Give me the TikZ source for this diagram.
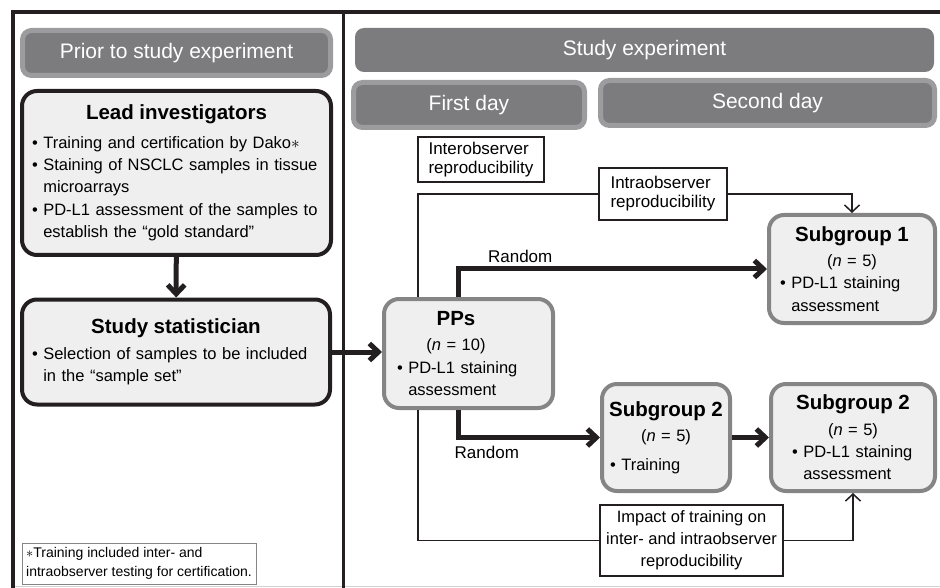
\documentclass[tikz,border=0pt]{standalone}
\usepackage{fontspec}
\setmainfont{Liberation Sans}
\usetikzlibrary{arrows.meta}
\definecolor{ink}{HTML}{231F20}
\definecolor{boxfill}{HTML}{EFEFEF}
\definecolor{boxedge}{HTML}{858585}
\definecolor{hdfill}{HTML}{7C7C7E}
\definecolor{hdring}{HTML}{9C9C9E}
\hyphenpenalty=10000
\newlength{\itmw}
\newcommand{\itm}[1]{\par\settowidth{\itmw}{\textbullet\ }\hangindent=\itmw\hangafter=1\noindent\textbullet\ #1\par}
\newcommand{\ttl}[2][\hsize]{\noindent\makebox[#1]{\bfseries\fontsize{20.5}{24}\selectfont #2}\par\vspace{3pt}}
\newcommand{\cnt}[2][\hsize]{\noindent\makebox[#1]{(\textit{n} = #2)}\par}
\begin{document}
\begin{tikzpicture}
[x=1pt, y=-1pt, line join=miter, >={Straight Barb[length=9pt,width=17pt]},
 hdr/.style={rounded corners=9pt, fill=hdfill, draw=hdring, line width=5pt, text=white,
   font=\fontsize{21}{24}\selectfont, minimum height=45pt, inner sep=0pt},
 grp/.style={rounded corners=15pt, fill=boxfill, line width=4pt, inner xsep=10pt, inner ysep=0pt,
   align=left, font=\fontsize{16.5}{22.3}\selectfont},
 lbl/.style={draw=ink, fill=white, line width=1.6pt, inner xsep=5pt, inner ysep=2pt,
   font=\fontsize{17}{19}\selectfont},
 thk/.style={draw=ink, line width=5pt},
 thn/.style={draw=ink, line width=1.5pt},
 rnd/.style={font=\fontsize{17}{19}\selectfont}]
\useasboundingbox (0,0) rectangle (940,588);
% frame
\draw[gray!35, line width=1pt] (13,586) -- (940,586);
\draw[ink, line width=4pt] (13,588) -- (13,12) -- (940,12);
\draw[ink, line width=3pt] (343,12) -- (343,588);
% headers
\foreach \nm/\x/\y/\w/\t in {prior/176.5/53/308/Prior to study experiment,
  first/469/105/231/First day, second/767.5/103/334/Second day}
  \node[hdr, minimum width=\w] (\nm) at (\x,\y) {\t};
\node[hdr, draw=none, minimum width=579pt, minimum height=44pt] (study) at (644.5,50) {Study experiment};
% left column
\node[grp, draw=ink, text width=289pt, minimum height=164pt] (lead) at (176.5,173)
  {\ttl{Lead investigators}\vspace{3pt}
   \itm{Training and certification by Dako$\ast$}
   \itm{Staining of NSCLC samples in tissue\newline microarrays}
   \itm{PD-L1 assessment of the samples to\newline establish the “gold standard”}};
\node[grp, draw=ink, text width=288pt, minimum height=105pt] (stat) at (176,352)
  {\ttl{Study statistician}
   \itm{Selection of samples to be included\newline in the “sample set”}};
\node[draw=boxedge, line width=1pt, align=left, minimum width=234pt, minimum height=41pt,
  inner xsep=4pt, font=\fontsize{14}{19}\selectfont] (note) at (139,563.5)
  {$\ast$Training included inter- and\\intraobserver testing for certification.};
% right column
\node[grp, draw=boxedge, inner xsep=13pt, text width=143pt, minimum height=109pt] (pps) at (468.5,353.5)
  {\ttl[118pt]{PPs}\cnt[118pt]{10}\itm{PD-L1 staining\newline assessment}};
\node[grp, draw=boxedge, inner xsep=11pt, text width=144pt, minimum height=108pt] (sub1) at (852,269)
  {\ttl{Subgroup 1}\cnt{5}\itm{PD-L1 staining\newline assessment}};
\node[grp, draw=boxedge, inner xsep=8pt, text width=112pt, minimum height=107pt] (sub2a) at (666,437.5)
  {\ttl{Subgroup 2}\cnt{5}\vspace{6pt}\itm{Training}};
\node[grp, draw=boxedge, inner xsep=21pt, text width=122pt, minimum height=107pt] (sub2b) at (853,437.5)
  {\ttl{Subgroup 2}\cnt{5}\itm{PD-L1 staining\newline assessment}};
\node[lbl, align=left, minimum width=126pt, minimum height=45pt] (inter) at (481,159.5)
  {Interobserver\\reproducibility};
\node[lbl, align=left, minimum width=128pt, minimum height=52pt] (intra) at (663,194)
  {Intraobserver\\reproducibility};
\node[lbl, align=center, minimum width=183pt, minimum height=71pt,
  font=\fontsize{16.5}{22}\selectfont] (impact) at (691.5,540.5)
  {Impact of training on\\inter- and intraobserver\\reproducibility};
% connectors
\draw[thk, ->] (lead) -- (stat);
\draw[thk, ->] (stat.east) -- (stat.east -| pps.west);
\draw[thk, ->] ([xshift=-10pt]pps.north) |- (sub1.west) node[rnd, pos=0.6, above=1pt] {Random};
\draw[thk, ->] ([xshift=-10pt]pps.south) |- (sub2a.west) node[rnd, pos=0.6, below=3pt] {Random};
\draw[thk, ->] (sub2a) -- (sub2b);
\draw[thn] ([xshift=-50.5pt]pps.north) |- (intra.west);
\draw[thn, -{Straight Barb[length=7pt,width=15pt]}] (intra.east) -| (sub1.north);
\draw[thn] ([xshift=-50.5pt]pps.south) |- (impact.west);
\draw[thn, -{Straight Barb[length=7pt,width=15pt]}] (impact.east) -| (sub2b.south);
\end{tikzpicture}
\end{document}
